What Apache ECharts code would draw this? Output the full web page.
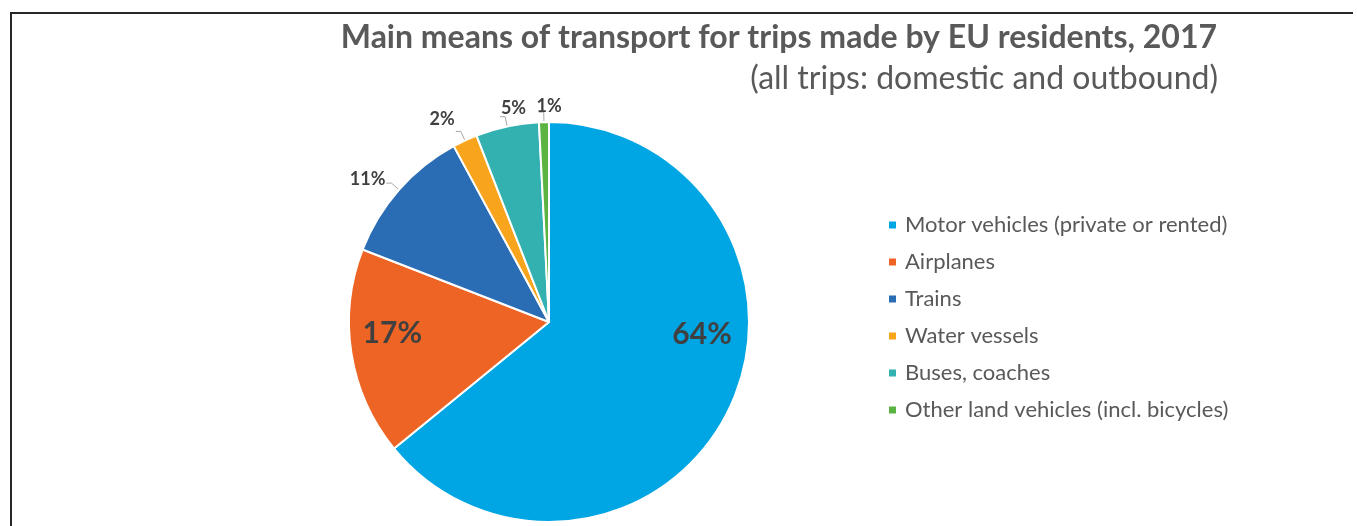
<!DOCTYPE html>
<html>
<head>
<meta charset="utf-8">
<script src="https://cdn.jsdelivr.net/npm/echarts@6/dist/echarts.min.js"></script>
<style>
html, body { margin: 0; padding: 0; background: #fff; }
#chart { width: 1357px; height: 526px; }
</style>
</head>
<body>
<div id="chart"></div>
<script>
// data (shares in %)
var categories = ['Motor vehicles (private or rented)', 'Airplanes', 'Trains', 'Water vessels', 'Buses, coaches', 'Other land vehicles (incl. bicycles)'];
var shares = [64.1, 16.8, 11.2, 2.0, 5.1, 0.8];
var colors = ['#00a5e3', '#ee6424', '#2a6db4', '#f8a51d', '#33b0b0', '#5bb342'];

var font = 'Lato, "Open Sans", sans-serif';

// the two big slices carry their label inside, the rest outside
var inside = { 0: [60, -32], 1: [-55, -5] };
// small nudges so the outside labels sit like the original
var nudges = { 2: [4, -4], 3: [4, -12], 4: [31, -8], 5: [28, -6] };

var pieData = categories.map(function (name, i) {
    var item = { name: name, value: shares[i], itemStyle: { color: colors[i] } };
    if (inside[i]) {
        item.label = { position: 'inside', fontSize: 30, offset: inside[i] };
        item.labelLine = { show: false };
    }
    return item;
});

var myChart = echarts.init(document.getElementById('chart'));

var option = {
    animation: false,
    textStyle: { fontFamily: font },
    title: [{
        text: 'Main means of transport for trips made by EU residents, 2017',
        right: 135,
        top: 17,
        textStyle: { fontFamily: font, fontSize: 32, fontWeight: 'bold', color: '#595959' }
    }, {
        text: '(all trips: domestic and outbound)',
        right: 134,
        top: 58,
        textStyle: { fontFamily: font, fontSize: 32, fontWeight: 'normal', color: '#595959' }
    }],
    legend: {
        orient: 'vertical',
        left: 882,
        top: 209,
        icon: 'rect',
        itemWidth: 9,
        itemHeight: 9,
        itemGap: 15,
        textStyle: { fontFamily: font, fontSize: 22, color: '#595959', padding: [0, 0, 0, 3] },
        data: categories
    },
    graphic: [{
        type: 'polyline',
        shape: { points: [[11, 526], [11, 13], [1353, 13]] },
        style: { stroke: '#262626', lineWidth: 2, fill: null }
    }],
    series: [{
        type: 'pie',
        center: [549, 322],
        radius: 200,
        startAngle: 90,
        clockwise: true,
        avoidLabelOverlap: false,
        itemStyle: { borderColor: '#fff', borderWidth: 2 },
        label: {
            show: true,
            formatter: function (p) { return Math.round(p.value) + '%'; },
            fontFamily: font,
            fontSize: 18,
            fontWeight: 'bold',
            color: '#404040'
        },
        labelLine: {
            show: true,
            length: 10,
            length2: 5,
            lineStyle: { color: '#a6a6a6', width: 1 }
        },
        labelLayout: function (p) {
            var d = nudges[p.dataIndex];
            return d ? { dx: d[0], dy: d[1] } : {};
        },
        data: pieData
    }]
};

myChart.setOption(option);
</script>
</body>
</html>
